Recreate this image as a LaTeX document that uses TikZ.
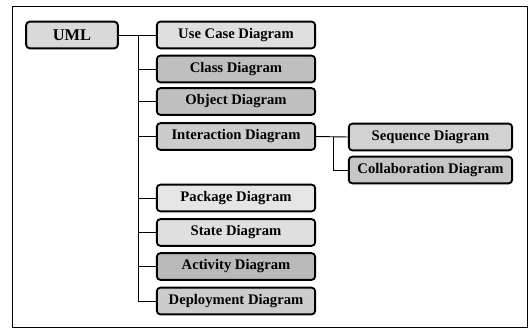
\documentclass[tikz,border=0pt]{standalone}
\usepackage{fontspec}
\setmainfont{Liberation Serif}
\begin{document}
\begin{tikzpicture}[x=0.03cm,y=-0.03cm,
  box/.style={draw,line width=1.6pt,rounded corners=3pt,minimum height=0.8cm,inner sep=1pt,font=\bfseries\fontsize{12.5}{14}\selectfont},
  kid/.style={box,minimum width=4.75cm},
  sub/.style={box,minimum width=4.9cm}]
 \useasboundingbox (0,0) rectangle (530,328);
 \draw[line width=0.6pt] (12,6) rectangle (527,327);
 % root and first level
 \node[box,fill=gray!30,minimum width=2.75cm,font=\bfseries\fontsize{14}{16}\selectfont] (uml) at (72,35) {UML};
 \node[kid,fill=gray!25] (usecase) at (236,35) {Use Case Diagram};
 \node[kid,fill=gray!50] (class) at (236,69) {Class Diagram};
 \node[kid,fill=gray!50] (object) at (236,101.5) {Object Diagram};
 \node[kid,fill=gray!40] (interaction) at (236,136.5) {Interaction Diagram};
 \node[kid,fill=gray!20] (package) at (236,198) {Package Diagram};
 \node[kid,fill=gray!25] (state) at (236,232.5) {State Diagram};
 \node[kid,fill=gray!55] (activity) at (236,266.5) {Activity Diagram};
 \node[kid,fill=gray!40] (deployment) at (236,301) {Deployment Diagram};
 % second level
 \node[sub,fill=gray!35] (sequence) at (430.5,137) {Sequence Diagram};
 \node[sub,fill=gray!45] (collab) at (430.5,170) {Collaboration Diagram};
 \coordinate (trunk) at (138,35);
 \coordinate (branch) at (333,137);
 \draw[thick] (uml.east) -- (usecase.west);
 \draw[thick] (trunk) |- (deployment.west);
 \foreach \n in {class,object,interaction,package,state,activity}
   \draw[thick] (trunk |- \n.west) -- (\n.west);
 \draw[thick] (interaction.east) -- (sequence.west);
 \draw[thick] (branch) |- (collab.west);
\end{tikzpicture}
\end{document}
